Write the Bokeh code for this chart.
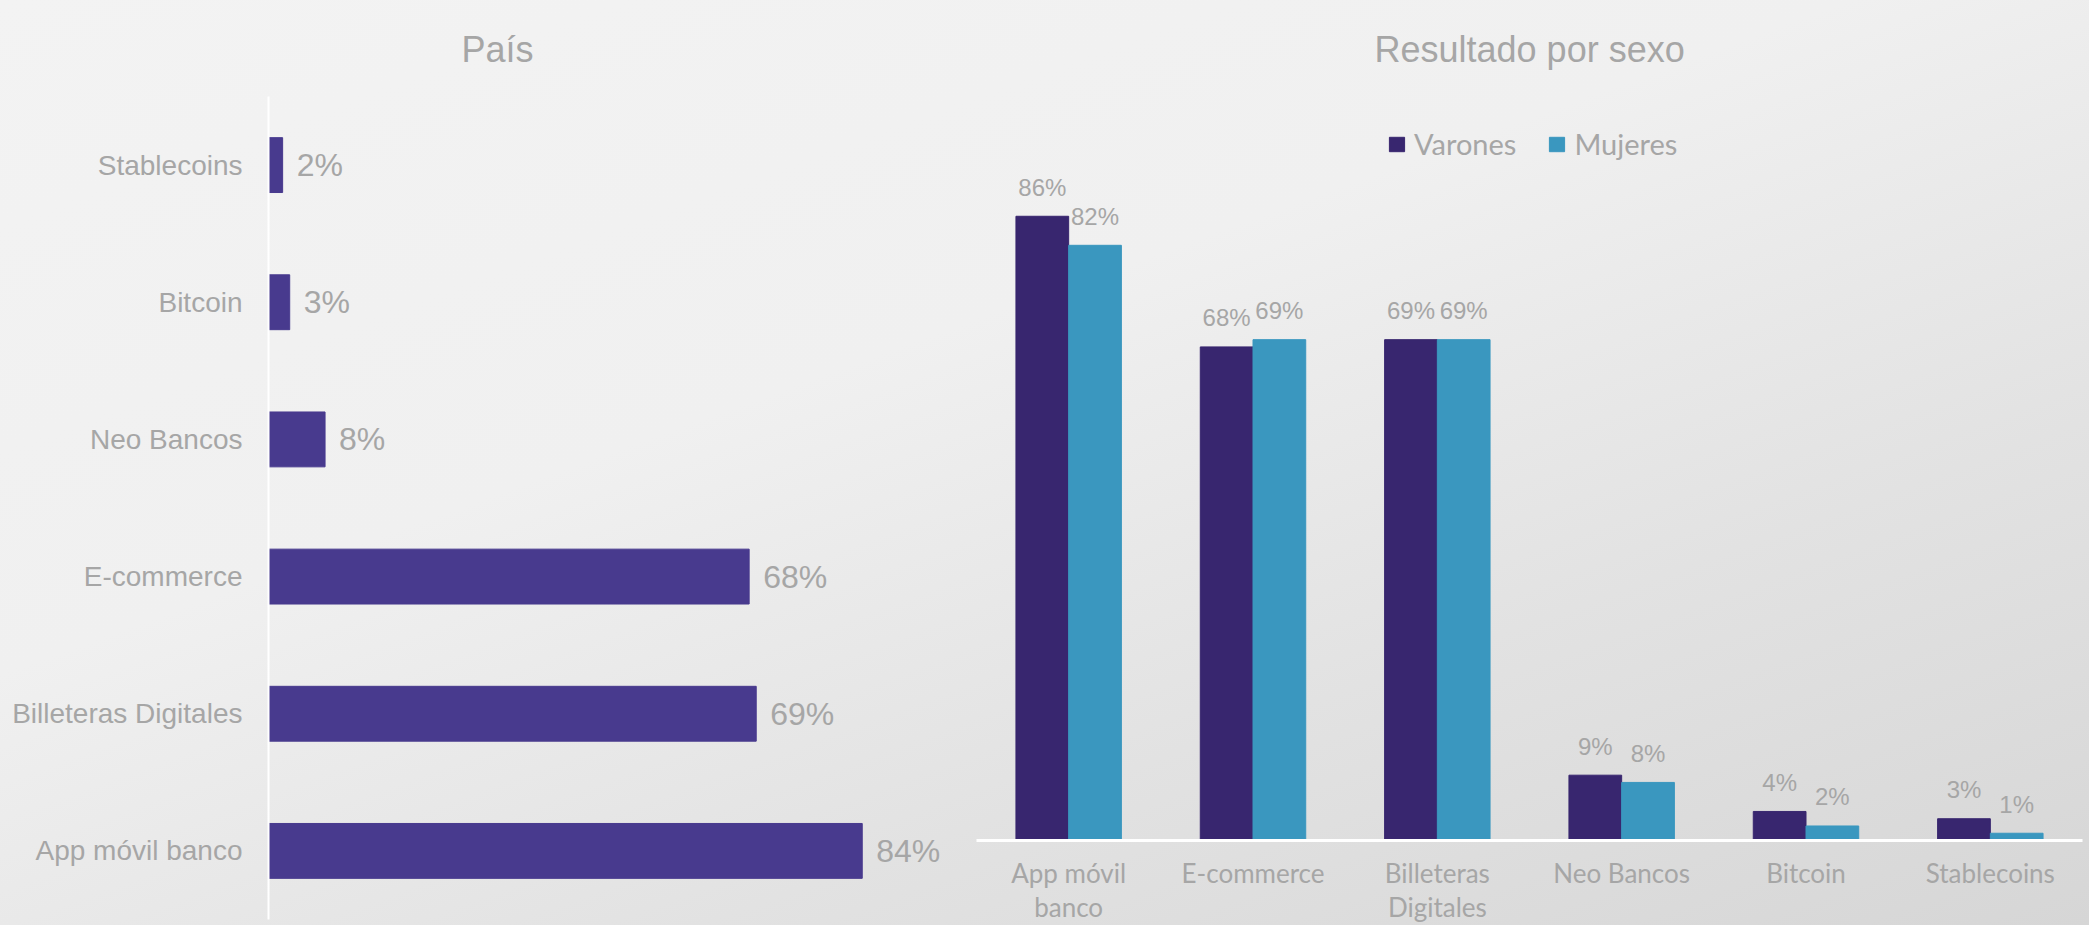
from bokeh.plotting import figure
from bokeh.models import (FactorRange, Range1d, Legend, LegendItem, CategoricalAxis, Title,
                          CustomJSTickFormatter)
from bokeh.transform import dodge
from bokeh.layouts import row
from bokeh.core.properties import value
from bokeh.embed import file_html
from bokeh.resources import INLINE

# ---- data: left chart (País) ----
pais_cats = ["App móvil banco", "Billeteras Digitales", "E-commerce", "Neo Bancos", "Bitcoin", "Stablecoins"]
pais_vals = [84, 69, 68, 8, 3, 2]

# ---- data: right chart (Resultado por sexo) ----
sexo_cats = ["App móvil banco", "E-commerce", "Billeteras Digitales", "Neo Bancos", "Bitcoin", "Stablecoins"]
sexo_line1 = ["App móvil", "E-commerce", "Billeteras", "Neo Bancos", "Bitcoin", "Stablecoins"]
sexo_line2 = ["banco", "", "Digitales", "", "", ""]
varones = [86, 68, 69, 9, 4, 3]
mujeres = [82, 69, 69, 8, 2, 1]
series_names = ["Varones", "Mujeres"]

GRAY = "#A6A6A6"
PAGE_BG = "linear-gradient(160deg, #F3F3F3 0%, #F0F0F0 40%, #E2E2E2 70%, #D6D6D6 100%)"

def clear_bg(p):
    p.background_fill_alpha = 0
    p.border_fill_alpha = 0
    p.outline_line_color = None
    p.grid.visible = False
    p.frame_align = False

# ================= left figure =================
p1 = figure(width=960, height=925, y_range=FactorRange(*pais_cats), x_range=Range1d(0, 97.9),
            output_backend="svg", toolbar_location=None,
            min_border_left=268, min_border_right=0, min_border_top=96, min_border_bottom=6)
clear_bg(p1)
p1.xaxis.visible = False
p1.hbar(y=pais_cats, right=pais_vals, left=0, height=0.4, color="#483A8E")
p1.text(x=pais_vals, y=pais_cats, text=[f"{v}%" for v in pais_vals], x_offset=14,
        text_align="left", text_baseline="middle", text_color=GRAY,
        text_font=value("Liberation Sans"), text_font_size="32px")
ya = p1.yaxis[0]
ya.axis_line_color = "white"
ya.axis_line_width = 2
ya.major_tick_line_color = None
ya.minor_tick_line_color = None
ya.major_tick_out = 0
ya.major_label_standoff = 26
ya.major_label_text_font = "Liberation Sans"
ya.major_label_text_font_size = "28px"
ya.major_label_text_color = GRAY
p1.add_layout(Title(text="País", align="left", offset=193, standoff=50, vertical_align="top",
                    text_color=GRAY, text_font="Liberation Sans", text_font_size="36px",
                    text_font_style="normal"), "above")

# ================= right figure =================
p2 = figure(width=1129, height=925, x_range=FactorRange(*sexo_cats), y_range=Range1d(0, 102.5),
            output_backend="svg", toolbar_location=None,
            min_border_left=16, min_border_right=7, min_border_top=96, min_border_bottom=85)
clear_bg(p2)
p2.yaxis.visible = False
src = dict(cat=sexo_cats, v=varones, m=mujeres,
           vl=[f"{v}%" for v in varones], ml=[f"{v}%" for v in mujeres])
r1 = p2.vbar(x=dodge("cat", -0.143, range=p2.x_range), top="v", width=0.286, source=src, color="#38266F")
r2 = p2.vbar(x=dodge("cat", 0.143, range=p2.x_range), top="m", width=0.286, source=src, color="#3A97BF")
p2.text(x=dodge("cat", -0.143, range=p2.x_range), y="v", text="vl", source=src, y_offset=-29,
        text_align="center", text_baseline="alphabetic", text_color=GRAY,
        text_font=value("Liberation Sans"), text_font_size="24px")
p2.text(x=dodge("cat", 0.143, range=p2.x_range), y="m", text="ml", source=src, y_offset=-29,
        text_align="center", text_baseline="alphabetic", text_color=GRAY,
        text_font=value("Liberation Sans"), text_font_size="24px")

FMT_CODE = "const i = cats.indexOf(tick); return i >= 0 ? labels[i] : tick;"

def style_axis(ax, standoff):
    ax.major_tick_line_color = None
    ax.minor_tick_line_color = None
    ax.major_tick_out = 0
    ax.major_tick_in = 0
    ax.major_label_standoff = standoff
    ax.major_label_text_font = "Lato"
    ax.major_label_text_font_size = "26px"
    ax.major_label_text_color = GRAY

xa = p2.xaxis[0]
xa.axis_line_color = "white"
xa.axis_line_width = 3
style_axis(xa, 16)
xa.formatter = CustomJSTickFormatter(args=dict(cats=sexo_cats, labels=sexo_line1), code=FMT_CODE)

xa2 = CategoricalAxis(axis_line_color=None)
style_axis(xa2, -1)
xa2.formatter = CustomJSTickFormatter(args=dict(cats=sexo_cats, labels=sexo_line2), code=FMT_CODE)
p2.add_layout(xa2, "below")

legend = Legend(items=[LegendItem(label=series_names[0], renderers=[r1]),
                       LegendItem(label=series_names[1], renderers=[r2])],
                orientation="horizontal", location=(411, 679), padding=0, margin=0,
                background_fill_alpha=0, border_line_color=None,
                glyph_width=19, glyph_height=18, label_standoff=8, spacing=31,
                label_text_font="Lato", label_text_font_size="29px", label_text_color=GRAY)
p2.add_layout(legend)
p2.add_layout(Title(text="Resultado por sexo", align="left", offset=398, standoff=50, vertical_align="top",
                    text_color=GRAY, text_font="Liberation Sans", text_font_size="36px",
                    text_font_style="normal"), "above")

layout = row(p1, p2, spacing=0, styles={"background": PAGE_BG})
open("out.html", "w").write(file_html(layout, INLINE))
